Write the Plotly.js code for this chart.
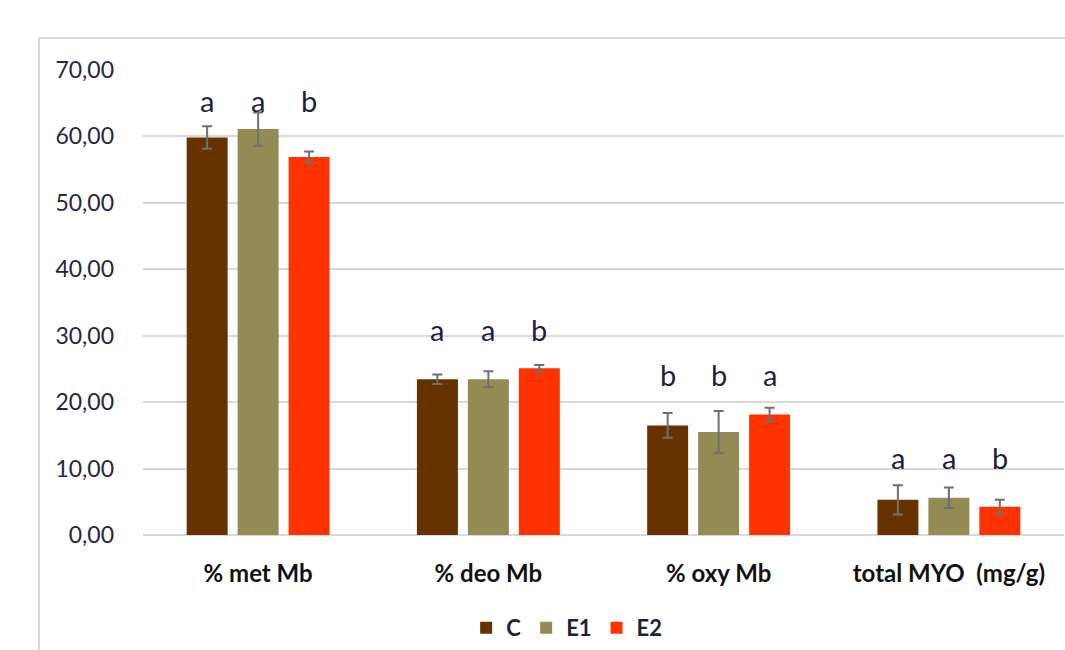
<!DOCTYPE html>
<html>
<head>
<meta charset="utf-8">
<script src="https://cdn.plot.ly/plotly-3.0.1.min.js"></script>
<style>
  html, body { margin: 0; padding: 0; background: #ffffff; }
  #wrap { position: relative; width: 1065px; height: 650px; overflow: hidden; }
  #frame { position: absolute; left: 38px; top: 37px; width: 1200px; height: 800px; border: 2px solid #d9d9d9; box-sizing: border-box; }
  #chart { position: absolute; left: 0; top: 0; width: 1065px; height: 650px; }
</style>
</head>
<body>
<div id="wrap">
  <div id="frame"></div>
  <div id="chart"></div>
</div>
<script>
// ---- data ----
const categories = ['% met Mb', '% deo Mb', '% oxy Mb', 'total MYO  (mg/g)'];
const seriesNames = ['C', 'E1', 'E2'];
const valuesC  = [59.85, 23.45, 16.50, 5.30];
const valuesE1 = [61.10, 23.45, 15.50, 5.60];
const valuesE2 = [56.90, 25.10, 18.15, 4.25];
const errC  = [1.70, 0.70, 1.85, 2.20];
const errE1 = [2.50, 1.20, 3.15, 1.55];
const errE2 = [0.85, 0.50, 1.00, 1.05];
const lettersC  = ['a', 'a', 'b', 'a'];
const lettersE1 = ['a', 'a', 'b', 'a'];
const lettersE2 = ['b', 'b', 'a', 'b'];
const letterY = [65.45, 30.95, 24.10, 11.70];
const yTicks = [0, 10, 20, 30, 40, 50, 60, 70];

const colors = ['#663300', '#948a54', '#ff3300'];
const values = [valuesC, valuesE1, valuesE2];
const errs = [errC, errE1, errE2];
const letters = [lettersC, lettersE1, lettersE2];
const FONT = 'Lato, "Open Sans", sans-serif';

const traces = seriesNames.map((name, i) => ({
  type: 'bar',
  name: name,
  x: categories,
  y: values[i],
  marker: { color: colors[i], line: { width: 0 } },
  error_y: { type: 'data', array: errs[i], visible: true, color: '#6f6f6f', thickness: 2, width: 5 },
  hoverinfo: 'x+y'
}));

// letters above groups, shifted to each bar's slot
const slotPx = 51;
const annotations = [];
letters.forEach((arr, i) => {
  arr.forEach((t, j) => {
    annotations.push({
      x: categories[j], y: letterY[j], xref: 'x', yref: 'y',
      text: t, showarrow: false, xshift: (i - 1) * slotPx,
      yanchor: 'middle',
      font: { family: FONT, size: 29, color: '#1f1f3a' }
    });
  });
});

const layout = {
  width: 1065, height: 650,
  margin: { l: 143, r: 1, t: 70, b: 113.3, pad: 0 },
  paper_bgcolor: 'rgba(0,0,0,0)',
  plot_bgcolor: 'rgba(0,0,0,0)',
  separators: ', ',
  barmode: 'group',
  bargap: 0.336,
  bargroupgap: 0.196,
  showlegend: true,
  legend: {
    orientation: 'h', x: 0.46, xanchor: 'center', y: -0.2, yanchor: 'middle',
    font: { family: FONT, size: 22, color: '#1f1f3a', weight: 'bold' },
    itemwidth: 30, traceorder: 'normal'
  },
  xaxis: {
    type: 'category',
    showgrid: false, zeroline: false, showline: false, ticks: '',
    tickfont: { family: FONT, size: 24, color: '#111111', weight: 'bold' },
    ticklabelstandoff: 22
  },
  yaxis: {
    range: [0, 70], tickvals: yTicks, tickformat: '.2f',
    showgrid: true, gridcolor: '#d9d9d9', gridwidth: 2,
    zeroline: true, zerolinecolor: '#d9d9d9', zerolinewidth: 2,
    showline: false, ticks: '',
    tickfont: { family: FONT, size: 23, color: '#262640' },
    ticklabelstandoff: 28
  },
  annotations: annotations,
  font: { family: FONT }
};

Plotly.newPlot('chart', traces, layout, { displayModeBar: false, staticPlot: true });
</script>
</body>
</html>
